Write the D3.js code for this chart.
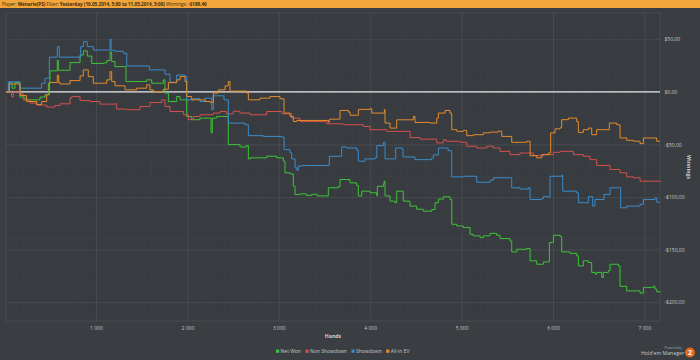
<!DOCTYPE html>
<html><head><meta charset="utf-8">
<script src="https://cdn.jsdelivr.net/npm/d3@7"></script>
<style>
html,body{margin:0;padding:0;background:#3a3d41;}
svg{display:block;font-family:"Open Sans","DejaVu Sans",sans-serif;}
</style></head>
<body>
<svg id="chart" width="700" height="360"></svg>
<script>
// ---- data (hands, winnings $) ----
const seriesNames = ["Net Won", "Non Showdown", "Showdown", "All-in EV"];
const xTicks = [1000, 2000, 3000, 4000, 5000, 6000, 7000];
const yTicks = [50, 0, -50, -100, -150, -200];
const yTickLabels = ["$50,00", "$0,00", "-$50,00", "-$100,00", "-$150,00", "-$200,00"];

const netWon = [[16,0],[52,8.8],[82,3.5],[114,8.8],[169,-5],[224,-7.6],[388,-5],[443,-2.8],[479,8],[497,20],[577,30],[588,20.5],[716,27.8],[826,35],[862,39],[905,34],[954,27],[1080,27.5],[1118,29.7],[1154,38],[1172,28.7],[1208,24],[1329,9.8],[1555,11.4],[1610,8.2],[1737,11.4],[1755,-1.2],[1792,-9.2],[1883,-4.5],[1920,-7.6],[1993,-23.4],[2048,-26.5],[2139,-25],[2259,-39],[2273,-25],[2321,-23.4],[2448,-50.2],[2576,-52.4],[2649,-51],[2667,-63.8],[2685,-62.8],[2868,-61.3],[2978,-62.8],[3050,-66],[3068,-77],[3123,-78],[3159,-89.8],[3178,-97.6],[3240,-97],[3300,-98.5],[3360,-97.5],[3420,-99],[3542,-91.3],[3651,-90],[3670,-83.4],[3743,-83.4],[3779,-86.6],[3853,-89],[3870,-99],[3907,-94.5],[3998,-96],[4072,-99],[4078,-89.8],[4144,-88],[4151,-85],[4162,-99],[4217,-104],[4272,-105.5],[4290,-94.5],[4345,-94.5],[4362,-104],[4435,-108.7],[4508,-111.7],[4581,-113.5],[4673,-112],[4709,-105.5],[4746,-102],[4800,-99.8],[4873,-102.4],[4892,-126],[4947,-127.6],[5019,-129],[5092,-135.5],[5128,-137],[5202,-138.7],[5238,-137],[5311,-134.6],[5384,-136.5],[5420,-139.6],[5530,-142],[5548,-152.3],[5603,-149.8],[5712,-149],[5749,-160.8],[5822,-164],[5895,-161.8],[5949,-161.8],[5960,-143.4],[6004,-136.5],[6077,-137.5],[6095,-152.3],[6186,-153.6],[6259,-156],[6277,-165.6],[6331,-160.8],[6386,-162.4],[6423,-171.8],[6459,-173.4],[6477,-171.8],[6533,-176.6],[6550,-171.8],[6605,-170],[6624,-164],[6715,-165.6],[6733,-185],[6806,-189.3],[6879,-189.3],[6952,-191.5],[6988,-186],[7097,-185],[7115,-187.6],[7134,-190.2],[7170,-189.5]];

const nonShowdown = [[16,0],[78,-4.8],[96,0],[169,-2],[205,-7.6],[279,-10.7],[352,-12.6],[461,-14.5],[552,-13],[607,-11.4],[716,-6],[735,-4.5],[826,-8.3],[935,-9.2],[1044,-11.7],[1208,-11.4],[1227,-16.4],[1337,-17],[1482,-14],[1591,-10.2],[1719,-7.6],[1755,-13.9],[1810,-18.7],[1956,-21.8],[2010,-26.5],[2065,-23.4],[2139,-21.8],[2284,-20.2],[2357,-18.7],[2430,-21],[2503,-18.5],[2576,-20.2],[2685,-21.8],[2868,-18.7],[3032,-20.9],[3141,-25],[3232,-28.2],[3374,-28.2],[3524,-30.4],[3706,-31.3],[3925,-32.9],[3998,-36],[4181,-37.6],[4436,-43.5],[4545,-45],[4728,-48.6],[4800,-45.5],[4830,-47],[4983,-48],[5056,-51.8],[5166,-53.4],[5275,-51.8],[5348,-53.4],[5420,-56.6],[5530,-59.7],[5639,-58.2],[5785,-60.7],[5895,-59.7],[6004,-57.5],[6077,-56.6],[6223,-59.7],[6331,-61.3],[6405,-64.5],[6478,-70],[6624,-73.9],[6733,-77],[6806,-80.9],[6879,-81.8],[6952,-85],[7062,-85],[7170,-86]];

const showdown = [[16,0],[41,9.5],[169,3.5],[406,8.2],[443,13],[490,33],[571,33],[577,43],[599,33],[833,43],[862,47.7],[905,43],[971,39.8],[1154,50],[1165,39.5],[1208,38.6],[1300,36.7],[1337,24.6],[1584,20.9],[1755,16.8],[1810,9],[1883,16],[1974,14.5],[1993,-7.6],[2065,-6.5],[2139,-9.2],[2193,-6],[2266,-17],[2284,-3.8],[2393,-3.8],[2400,-7.6],[2448,-29.7],[2576,-29.7],[2631,-31.3],[2667,-41.7],[2831,-42.4],[3032,-43],[3058,-55],[3123,-58],[3141,-63.8],[3178,-72.3],[3196,-74.5],[3214,-70.6],[3251,-70],[3553,-61.3],[3688,-52.4],[3743,-53.4],[3853,-55.6],[3870,-66],[3943,-63.8],[4053,-62.8],[4072,-51.2],[4144,-48],[4162,-63.8],[4279,-53.4],[4351,-54.5],[4359,-62],[4490,-64.5],[4673,-63],[4691,-60],[4746,-53.4],[4852,-56],[4892,-80.9],[5019,-80.3],[5166,-86],[5311,-84],[5348,-81.8],[5548,-91.3],[5639,-92.5],[5730,-91.3],[5749,-102.4],[5877,-101.5],[5895,-99.5],[5949,-100.4],[5967,-80.3],[6095,-79.3],[6106,-94.5],[6259,-96],[6277,-105.5],[6386,-99.8],[6434,-108.7],[6459,-102.4],[6558,-97.6],[6624,-91.3],[6740,-110.3],[6806,-108.7],[6952,-107],[6988,-102.4],[7115,-101],[7134,-105],[7170,-105]];

const allInEV = [[16,0],[52,7.5],[114,7.5],[169,-3.5],[242,-9.2],[352,-12],[406,-9.2],[461,-2.8],[490,8.8],[577,15.8],[592,8.8],[607,7.5],[716,10.7],[826,15.2],[862,20.9],[916,14.5],[971,8.2],[1118,11.4],[1154,19.2],[1172,9.8],[1208,5.7],[1318,1.9],[1446,3.5],[1555,6.7],[1591,1.9],[1628,0.3],[1737,2.5],[1792,8.8],[1883,11.4],[1920,14.5],[1974,9.8],[1993,-4.5],[2048,-7.6],[2193,-9.2],[2248,-10],[2284,-1.2],[2339,1.9],[2412,5.7],[2448,9.8],[2466,0.7],[2649,-1.2],[2667,-7.6],[2795,-6],[2904,-4.5],[3013,-6.6],[3057,-20.2],[3123,-23.4],[3159,-28.2],[3196,-27.2],[3378,-27.2],[3542,-28.8],[3553,-26],[3651,-26],[3670,-17.7],[3761,-19.2],[3779,-22.3],[3870,-16.7],[3998,-16],[4017,-20.2],[4144,-20.2],[4155,-16.7],[4162,-29.7],[4217,-34.5],[4290,-26.6],[4472,-23.4],[4490,-29.1],[4654,-29.7],[4728,-25],[4746,-20.2],[4819,-17.7],[4873,-20.2],[4892,-36],[4947,-37.6],[5019,-36.7],[5056,-41.7],[5128,-40.8],[5238,-39],[5311,-38.3],[5402,-37.4],[5439,-42.4],[5548,-48],[5712,-47],[5749,-60.7],[5822,-62.8],[5877,-59.7],[5949,-58.2],[5974,-39],[6022,-35.2],[6077,-34.2],[6095,-26.5],[6168,-25],[6259,-28.2],[6277,-38.6],[6331,-36],[6386,-34.5],[6423,-40.8],[6477,-36],[6550,-36],[6616,-29.7],[6697,-31.3],[6733,-43.9],[6806,-46.1],[6879,-47],[6952,-49.3],[6988,-43.9],[7097,-43.9],[7134,-47],[7170,-47]];

const seriesData = [netWon, nonShowdown, showdown, allInEV];
const colors = ["#3cc537", "#d5504c", "#3a8ccd", "#e38c2d"];

// ---- layout ----
const svg = d3.select("#chart");
const L = 6, R = 660, T = 13, B = 321;
const x = d3.scaleLinear().domain([16, 7170]).range([L, R]);
const y = d3.scaleLinear().domain([-218, 75]).range([B, T]);

svg.append("rect").attr("width", 700).attr("height", 360).attr("fill", "#3a3d41");
// header
svg.append("rect").attr("x", 0).attr("y", 0).attr("width", 700).attr("height", 8).attr("fill", "#f1a53a");
const hdr = svg.append("text").attr("x", 2).attr("y", 5.8).attr("font-size", 4.6).attr("fill", "#3a2a10");
[["Player: ", false], ["Wenarie(PS) ", true], ["Filter: ", false], ["Yesterday (10.05.2014, 5:00 to 11.05.2014, 5:00) ", true], ["Winnings: ", false], ["-$189,46", true]]
  .forEach(([t, b]) => hdr.append("tspan").attr("font-weight", b ? "bold" : "normal").text(t));

// plot background
svg.append("rect").attr("x", L).attr("y", T).attr("width", R - L).attr("height", B - T).attr("fill", "#383b3f");

// minor grid
const gMinorX = svg.append("g").attr("transform", `translate(0,${B})`)
  .call(d3.axisBottom(x).tickValues(d3.range(200, 7170, 200)).tickSize(-(B - T)).tickFormat(""));
const gMinorY = svg.append("g").attr("transform", `translate(${L},0)`)
  .call(d3.axisLeft(y).tickValues(d3.range(-210, 75, 10)).tickSize(-(R - L)).tickFormat(""));
[gMinorX, gMinorY].forEach(g => { g.select(".domain").remove(); g.selectAll("line").attr("stroke", "#404347").attr("stroke-width", 0.6); });

// major grid
const gMajX = svg.append("g").attr("transform", `translate(0,${B})`)
  .call(d3.axisBottom(x).tickValues(xTicks).tickSize(-(B - T)).tickFormat(""));
const gMajY = svg.append("g").attr("transform", `translate(${L},0)`)
  .call(d3.axisLeft(y).tickValues(yTicks).tickSize(-(R - L)).tickFormat(""));
[gMajX, gMajY].forEach(g => { g.select(".domain").remove(); g.selectAll("line").attr("stroke", "#4a4d52").attr("stroke-width", 0.8); });

// border
svg.append("rect").attr("x", L).attr("y", T).attr("width", R - L).attr("height", B - T)
  .attr("fill", "none").attr("stroke", "#4d5055").attr("stroke-width", 0.8);

// zero line
svg.append("line").attr("x1", L).attr("x2", R).attr("y1", y(0)).attr("y2", y(0))
  .attr("stroke", "#e6e6e6").attr("stroke-width", 1.3);

// series
const line = d3.line().x(d => x(d[0])).y(d => y(d[1])).curve(d3.curveStepAfter);
seriesData.forEach((s, i) => {
  svg.append("path").datum(s).attr("d", line).attr("fill", "none")
    .attr("stroke", colors[i]).attr("stroke-width", 1).attr("stroke-linejoin", "round");
});

// x axis labels
const fmt = d => d3.format(",")(d).replace(/,/g, " ");
const ax = svg.append("g").attr("transform", `translate(0,${B})`)
  .call(d3.axisBottom(x).tickValues(xTicks).tickSize(0).tickPadding(5.5).tickFormat(fmt));
ax.select(".domain").remove();
ax.selectAll("text").attr("fill", "#c8c8c8").attr("font-size", 5).attr("font-family", "'Open Sans','DejaVu Sans',sans-serif");

// y axis labels (right)
const ay = svg.append("g").attr("transform", `translate(${R},0)`)
  .call(d3.axisRight(y).tickValues(yTicks).tickSize(0).tickPadding(4.5).tickFormat((d, i) => yTickLabels[i]));
ay.select(".domain").remove();
ay.selectAll("text").attr("fill", "#c8c8c8").attr("font-size", 5).attr("font-family", "'Open Sans','DejaVu Sans',sans-serif");

// axis titles
svg.append("text").attr("x", 333).attr("y", 338).attr("text-anchor", "middle")
  .attr("font-size", 5.2).attr("font-weight", "bold").attr("fill", "#d0d0d0").text("Hands");
svg.append("text").attr("transform", `translate(687,${(T + B) / 2}) rotate(90)`).attr("text-anchor", "middle")
  .attr("font-size", 5.2).attr("font-weight", "bold").attr("fill", "#d0d0d0").text("Winnings");

// legend
let lx = 276;
seriesNames.forEach((n, i) => {
  const g = svg.append("g").attr("transform", `translate(${lx},353)`);
  g.append("rect").attr("x", 0).attr("y", -3.4).attr("width", 3.2).attr("height", 3.2).attr("fill", colors[i]);
  const t = g.append("text").attr("x", 4.6).attr("y", 0).attr("font-size", 5).attr("fill", "#c8c8c8").text(n);
  lx += 4.6 + t.node().getComputedTextLength() + 4.5;
});

// branding
svg.append("text").attr("x", 682).attr("y", 348.5).attr("text-anchor", "end").attr("font-size", 3.2).attr("fill", "#aaa").text("Powered by");
svg.append("text").attr("x", 684).attr("y", 355).attr("text-anchor", "end").attr("font-size", 5.2).attr("fill", "#c8c8c8").text("Hold'em Manager");
svg.append("circle").attr("cx", 690).attr("cy", 352.5).attr("r", 5).attr("fill", "#e06a1e");
svg.append("text").attr("x", 690).attr("y", 355).attr("text-anchor", "middle").attr("font-size", 7).attr("font-weight", "bold").attr("fill", "#fff").text("2");
</script>
</body></html>
